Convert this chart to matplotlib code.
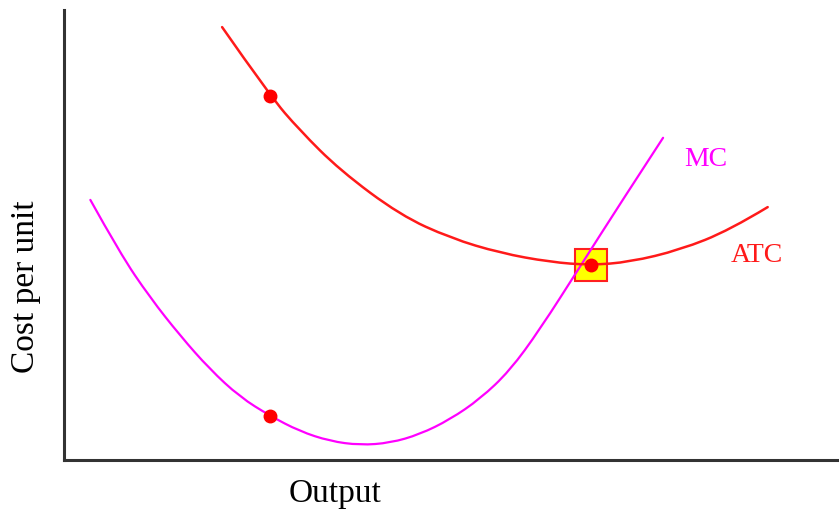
import matplotlib.pyplot as plt
from matplotlib.path import Path
from matplotlib.patches import PathPatch
import numpy as np

# 讀圖估計的曲線點 (產量, 單位成本)
mc_x = [0.34, 0.72, 1.11, 1.50, 1.88, 2.27, 2.66, 3.04, 3.43, 3.82, 4.21, 4.59, 4.98, 5.37, 5.75, 6.14, 6.66, 7.17, 7.73]
mc_y = [5.78, 4.60, 3.61, 2.76, 2.02, 1.40, 0.98, 0.64, 0.42, 0.33, 0.38, 0.57, 0.90, 1.36, 1.98, 2.90, 4.30, 5.68, 7.16]

atc_x = [2.04, 2.66, 3.04, 3.56, 4.34, 4.99, 5.63, 6.27, 6.79, 7.30, 7.95, 8.59, 9.08]
atc_y = [9.62, 8.09, 7.33, 6.44, 5.44, 4.93, 4.60, 4.40, 4.33, 4.40, 4.67, 5.11, 5.62]

# 標記點
dot_x = [2.66, 2.66, 6.80]
dot_y = [8.09, 0.98, 4.33]
min_x = 6.80
min_y = 4.33


def smooth_path(xs, ys):
    # 用二次貝茲把讀到的點連成平滑曲線
    pts = list(zip(xs, ys))
    verts = [pts[0]]
    codes = [Path.MOVETO]
    for i in range(1, len(pts) - 2):
        mid = ((pts[i][0] + pts[i + 1][0]) / 2, (pts[i][1] + pts[i + 1][1]) / 2)
        verts += [pts[i], mid]
        codes += [Path.CURVE3, Path.CURVE3]
    verts += [pts[-2], pts[-1]]
    codes += [Path.CURVE3, Path.CURVE3]
    return Path(verts, codes)


fig = plt.figure(figsize=(8.39, 5.12), dpi=100)
ax = fig.add_axes([64/839, 52/512, 775/839, 450/512])

# 最低點的黃色方框 (放在曲線下面)
ax.plot([min_x], [min_y], marker="s", markersize=23, markerfacecolor="#ffff00",
        markeredgecolor="#ff2020", markeredgewidth=1.5, linestyle="none", zorder=1)

ax.add_patch(PathPatch(smooth_path(mc_x, mc_y), facecolor="none", edgecolor="#ff00ff",
                       linewidth=1.6, capstyle="round", zorder=2))
ax.add_patch(PathPatch(smooth_path(atc_x, atc_y), facecolor="none", edgecolor="#ff1a1a",
                       linewidth=1.8, capstyle="round", zorder=2))

ax.plot(dot_x, dot_y, marker="o", markersize=9, color="#ff0000", linestyle="none", zorder=4)

ax.set_xlim(0, 10)
ax.set_ylim(0, 10)
ax.set_xticks([])
ax.set_yticks([])
ax.spines['top'].set_visible(False)
ax.spines['right'].set_visible(False)
ax.spines['left'].set_color("#333333")
ax.spines['bottom'].set_color("#333333")
ax.spines['left'].set_linewidth(2.2)
ax.spines['bottom'].set_linewidth(2.2)

ax.text(8.0, 6.68, "MC", color="#ff00ff", fontsize=20, family="Liberation Serif", va="center", ha="left")
ax.text(8.6, 4.55, "ATC", color="#ff1a1a", fontsize=20, family="Liberation Serif", va="center", ha="left")

fig.text(335/839, 1 - 494/512, "Output", fontsize=24, family="Liberation Serif", ha="center", va="center")
fig.text(26/839, 1 - 287/512, "Cost per unit", fontsize=24, family="Liberation Serif",
         ha="center", va="center", rotation=90)

fig.savefig("out.png", dpi=100)
